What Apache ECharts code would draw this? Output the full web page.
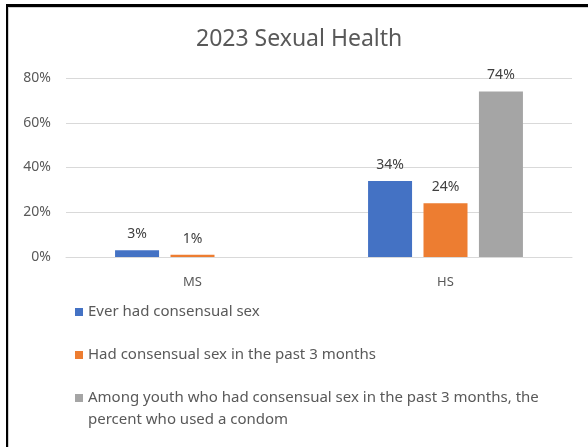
<!DOCTYPE html>
<html>
<head>
<meta charset="utf-8">
<script src="https://cdn.jsdelivr.net/npm/echarts@6/dist/echarts.min.js"></script>
<style>
html,body{margin:0;padding:0;background:#fff;}
#wrap{position:relative;width:588px;height:447px;overflow:hidden;}
#chart{position:absolute;left:0;top:0;width:588px;height:447px;}
#frame{position:absolute;left:6px;top:4px;width:700px;height:600px;border-top:3px solid #000;border-left:2px solid #000;pointer-events:none;}
#inner{position:absolute;left:8px;top:7px;width:700px;height:600px;border-top:1px solid #d0d0d0;border-left:1px solid #d0d0d0;pointer-events:none;}
</style>
</head>
<body>
<div id="wrap">
<div id="chart"></div>
<div id="inner"></div>
<div id="frame"></div>
</div>
<script>
var titleText = '2023 Sexual Health';
var categories = ['MS', 'HS'];
var seriesNames = [
  'Ever had consensual sex',
  'Had consensual sex in the past 3 months',
  'Among youth who had consensual sex in the past 3 months, the percent who used a condom'
];
var everHad = [3, 34];
var past3Months = [1, 24];
var usedCondom = ['-', 74];
var yTicks = [0, 20, 40, 60, 80];

var colors = ['#4472C4', '#ED7D31', '#A5A5A5'];
var seriesData = [everHad, past3Months, usedCondom];
var FONT = '"Noto Sans", sans-serif';

var chart = echarts.init(document.getElementById('chart'), null, {renderer: 'canvas'});

var series = seriesNames.map(function (name, i) {
  return {
    name: name,
    type: 'bar',
    data: seriesData[i],
    barWidth: 44,
    barGap: '26%',
    itemStyle: {color: colors[i]},
    label: {
      show: true,
      position: 'top',
      distance: 9,
      formatter: '{c}%',
      color: '#404040',
      fontSize: 14,
      fontFamily: FONT
    },
    emphasis: {disabled: true}
  };
});

var legendPads = [[22, 0, 22, 0], [0, 0, 0, 0], [0, 0, 0, 0]];

var option = {
  animation: false,
  color: colors,
  title: {
    text: titleText,
    left: 196,
    top: 28,
    padding: 0,
    textStyle: {fontSize: 23, fontWeight: 'normal', color: '#595959', fontFamily: FONT}
  },
  grid: {left: 66, right: 16, top: 78, bottom: 190, containLabel: false},
  xAxis: {
    type: 'category',
    data: categories,
    axisLine: {lineStyle: {color: '#d9d9d9', width: 1}},
    axisTick: {show: false},
    axisLabel: {color: '#595959', fontSize: 13, fontFamily: FONT, margin: 19}
  },
  yAxis: {
    type: 'value',
    min: yTicks[0],
    max: yTicks[yTicks.length - 1],
    interval: yTicks[1] - yTicks[0],
    axisLine: {show: false},
    axisTick: {show: false},
    splitLine: {lineStyle: {color: '#d9d9d9', width: 1}},
    axisLabel: {formatter: '{value}%', color: '#595959', fontSize: 14, fontFamily: FONT, margin: 15}
  },
  legend: {
    orient: 'vertical',
    left: 75,
    top: 279,
    padding: 0,
    itemGap: -1,
    itemWidth: 8,
    itemHeight: 8,
    icon: 'rect',
    selectedMode: false,
    formatter: function (name) {
      return name === seriesNames[2] ? '\n' + name : name;
    },
    data: seriesNames.map(function (n, i) {
      return {
        name: n,
        textStyle: {padding: legendPads[i]}
      };
    }),
    textStyle: {
      color: '#595959',
      fontSize: 15,
      fontFamily: FONT,
      lineHeight: 22,
      width: 480,
      overflow: 'break'
    }
  },
  series: series
};
chart.setOption(option);
</script>
</body>
</html>
